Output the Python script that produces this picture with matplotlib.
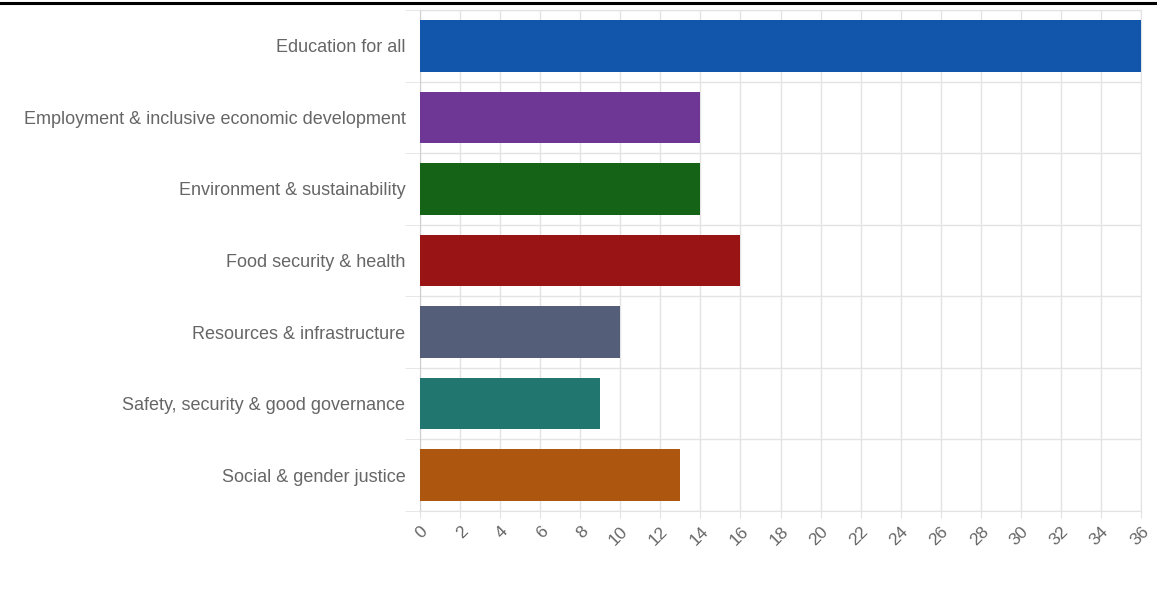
import matplotlib
matplotlib.use("Agg")
import matplotlib.pyplot as plt
from matplotlib.lines import Line2D

# --- DATA ---
categories = [
    "Education for all",
    "Employment & inclusive economic development",
    "Environment & sustainability",
    "Food security & health",
    "Resources & infrastructure",
    "Safety, security & good governance",
    "Social & gender justice",
]
values = [36, 14, 14, 16, 10, 9, 13]
colors = ["#1256ab", "#6f3795", "#146317", "#991515", "#545e78", "#21776f", "#ad5610"]
x_ticks = list(range(0, 37, 2))

plt.rcParams["font.family"] = ["Liberation Sans", "DejaVu Sans"]
grid_col = "#e3e3e3"
text_col = "#666666"

fig = plt.figure(figsize=(11.57, 6.02), dpi=100)
ax = fig.add_axes([420 / 1157, 1 - 511 / 602, 721 / 1157, 501 / 602])

ypos = list(range(len(categories)))
ax.barh(ypos, values, height=0.72, color=colors, zorder=3)

ax.set_xlim(0, 36)
ax.set_ylim(len(categories) - 0.5, -0.5)

ax.set_xticks(x_ticks)
ax.set_xticklabels([str(t) for t in x_ticks], rotation=45, ha="right", va="top",
                   rotation_mode="anchor", color=text_col, fontsize=12.5)
ax.tick_params(axis="x", length=5, color=grid_col, pad=4)

ax.set_yticks(ypos)
ax.set_yticklabels(categories, color=text_col, fontsize=13)
ax.set_yticks([i - 0.5 for i in range(len(categories) + 1)], minor=True)
ax.tick_params(axis="y", which="major", length=0, pad=10.5)
ax.tick_params(axis="y", which="minor", length=10.8, color=grid_col)

ax.grid(axis="x", color=grid_col, lw=1, zorder=0)
ax.grid(axis="y", which="minor", color=grid_col, lw=1, zorder=0)

for s in ax.spines.values():
    s.set_color(grid_col)
ax.spines["left"].set_color("#cfcfcf")

# top black rule
fig.add_artist(Line2D([0, 1], [1 - 2.5 / 602, 1 - 2.5 / 602], color="black", lw=2.2,
                      transform=fig.transFigure))

fig.savefig("out.png", dpi=100)
